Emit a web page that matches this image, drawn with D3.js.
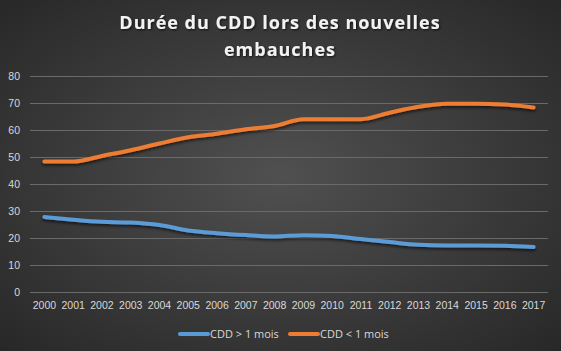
<!DOCTYPE html>
<html>
<head>
<meta charset="utf-8">
<script src="https://cdn.jsdelivr.net/npm/d3@7"></script>
<style>
  body { margin: 0; background: #2b2b2b; }
  svg { display: block; font-family: "Open Sans", "Liberation Sans", sans-serif; }
  .grid line { stroke: #6a6a6a; stroke-width: 1; }
  .tick text { fill: #d9d9d9; font-size: 10.5px; }
  .series { fill: none; stroke-width: 4px; stroke-linecap: round; stroke-linejoin: round; }
</style>
</head>
<body>
<svg width="561" height="351"></svg>
<script>
  // data
  var years = ["2000", "2001", "2002", "2003", "2004", "2005", "2006", "2007", "2008",
    "2009", "2010", "2011", "2012", "2013", "2014", "2015", "2016", "2017"]
  var plusUnMois = [27.8, 26.8, 26.0, 25.7, 24.8, 22.8, 21.8, 21.1, 20.6,
    21.0, 20.7, 19.6, 18.5, 17.5, 17.2, 17.2, 17.1, 16.7]
  var moinsUnMois = [48.3, 48.3, 50.4, 52.5, 55.0, 57.3, 58.6, 60.3, 61.5,
    64.0, 64.0, 64.0, 66.4, 68.6, 69.7, 69.7, 69.4, 68.3]
  var yTicks = [0, 10, 20, 30, 40, 50, 60, 70, 80]
  var seriesNames = ["CDD > 1 mois", "CDD < 1 mois"]
  var colors = ["#5b9bd5", "#ed7d31"]

  var svg = d3.select('svg')
  var W = 561, H = 351

  // background
  var defs = svg.append('defs')
  var grad = defs.append('radialGradient').attr('id', 'bg')
    .attr('cx', '50%').attr('cy', '50%').attr('r', '70%')
  grad.append('stop').attr('offset', '0%').attr('stop-color', '#505050')
  grad.append('stop').attr('offset', '100%').attr('stop-color', '#282828')
  var shadow = defs.append('filter').attr('id', 'shadow')
    .attr('x', '-10%').attr('y', '-50%').attr('width', '120%').attr('height', '200%')
  shadow.append('feDropShadow').attr('dx', 0).attr('dy', 2).attr('stdDeviation', 1.5)
    .attr('flood-color', '#000').attr('flood-opacity', 0.6)
  var tshadow = defs.append('filter').attr('id', 'tshadow')
  tshadow.append('feDropShadow').attr('dx', 1).attr('dy', 1).attr('stdDeviation', 1)
    .attr('flood-color', '#000').attr('flood-opacity', 0.7)

  svg.append('rect').attr('width', W).attr('height', H).attr('fill', 'url(#bg)')

  // title
  var title = svg.append('text')
    .attr('text-anchor', 'middle')
    .attr('fill', '#f2f2f2')
    .attr('font-size', 18)
    .attr('font-weight', 'bold')
    .attr('letter-spacing', 1)
    .attr('filter', 'url(#tshadow)')
  title.append('tspan').attr('x', 280).attr('y', 29).text('Durée du CDD lors des nouvelles')
  title.append('tspan').attr('x', 280).attr('y', 56).text('embauches')

  var x = d3.scaleBand().domain(years).range([30, 548])
  var y = d3.scaleLinear().domain([0, 80]).range([292, 76])

  // gridlines
  svg.append('g').attr('class', 'grid')
    .selectAll('line').data(yTicks).enter()
    .append('line')
    .attr('x1', 30).attr('x2', 548)
    .attr('y1', function(d) { return Math.round(y(d)) + 0.5 })
    .attr('y2', function(d) { return Math.round(y(d)) + 0.5 })

  // axes
  var yAxis = svg.append('g').attr('transform', 'translate(24,0)')
    .call(d3.axisLeft(y).tickValues(yTicks).tickSize(0).tickPadding(4))
  yAxis.select('.domain').remove()

  var xAxis = svg.append('g').attr('transform', 'translate(0,' + 296 + ')')
    .call(d3.axisBottom(x).tickSize(0).tickPadding(6))
  xAxis.select('.domain').remove()

  // lines
  var line = d3.line()
    .x(function(d, i) { return x(years[i]) + x.bandwidth() / 2 })
    .y(function(d) { return y(d) })
    .curve(d3.curveMonotoneX)

  svg.append('g').attr('filter', 'url(#shadow)')
    .selectAll('path').data([plusUnMois, moinsUnMois]).enter()
    .append('path')
    .attr('class', 'series')
    .attr('stroke', function(d, i) { return colors[i] })
    .attr('d', line)

  // legend
  var legendX = [180, 290]
  var lg = svg.append('g').selectAll('g').data(seriesNames).enter()
    .append('g')
    .attr('transform', function(d, i) { return 'translate(' + legendX[i] + ',334)' })
  lg.append('line')
    .attr('x1', 0).attr('x2', 28)
    .attr('stroke', function(d, i) { return colors[i] })
    .attr('stroke-width', 4).attr('stroke-linecap', 'round')
  lg.append('text')
    .attr('x', 30).attr('dy', '0.35em')
    .attr('fill', '#d9d9d9').attr('font-size', 11)
    .text(function(d) { return d })
</script>
</body>
</html>
